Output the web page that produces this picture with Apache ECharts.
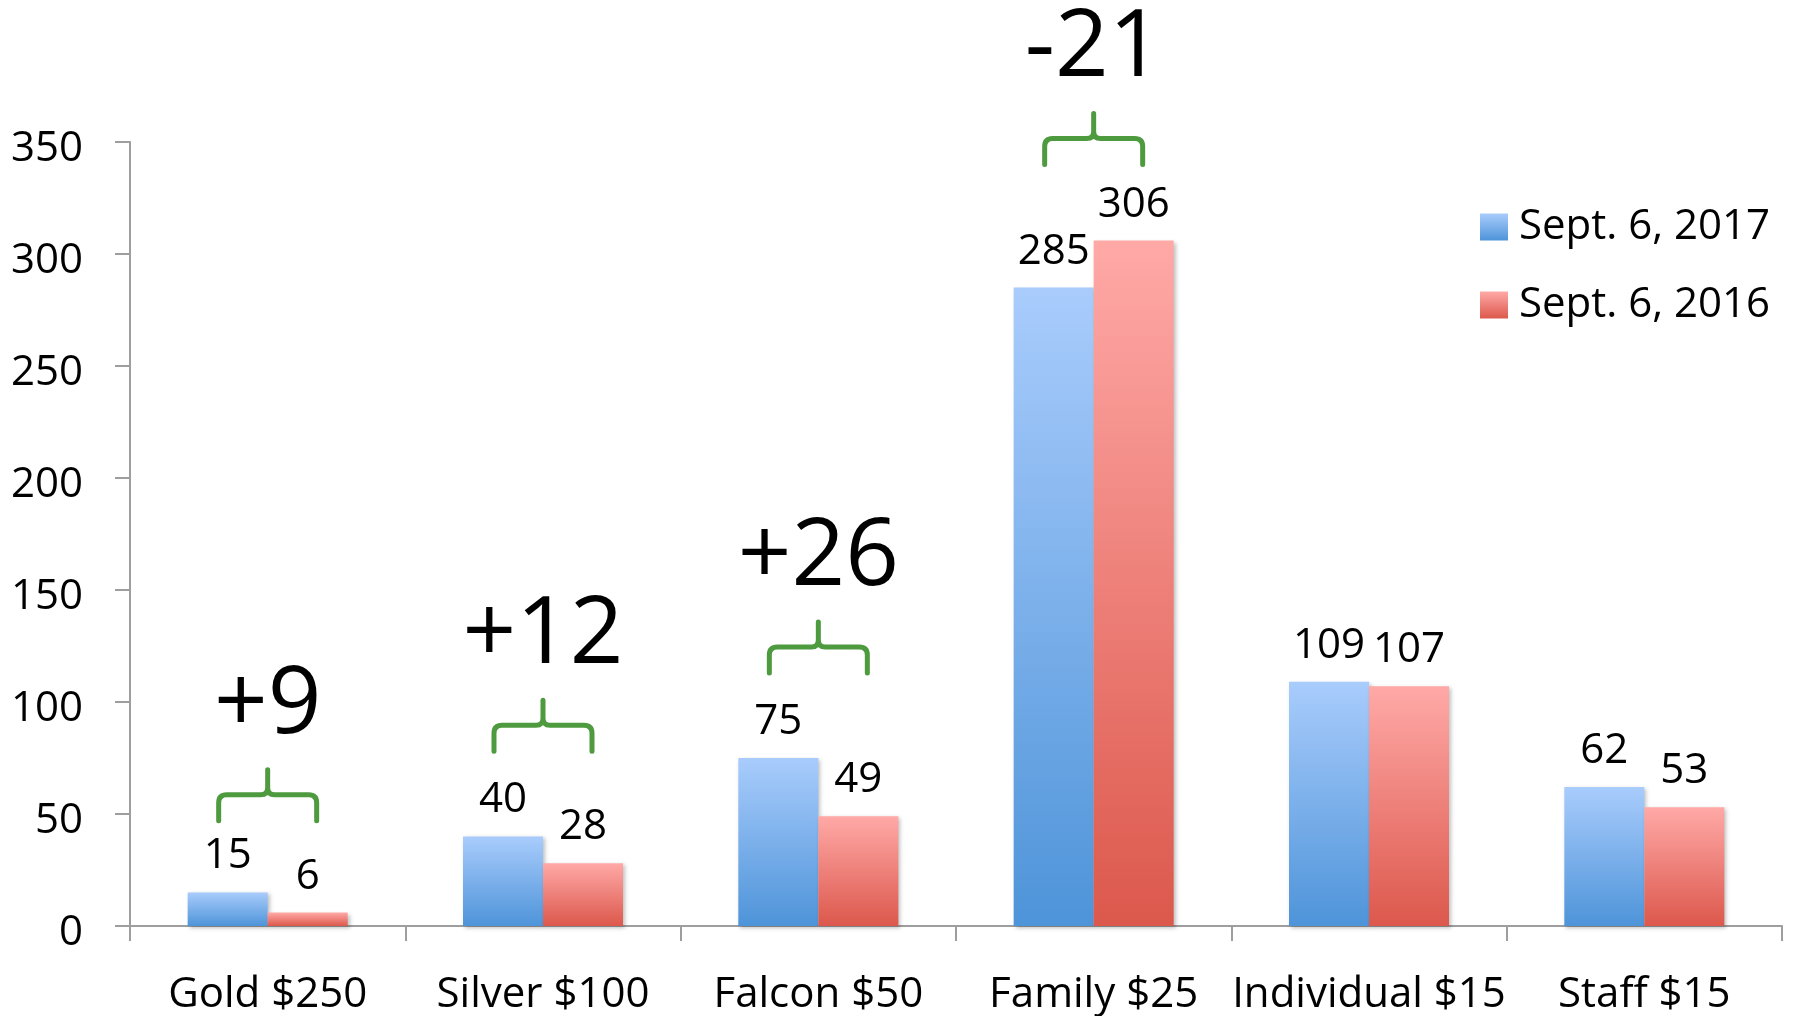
<!DOCTYPE html>
<html><head><meta charset="utf-8">
<script src="https://cdn.jsdelivr.net/npm/echarts@6/dist/echarts.min.js"></script>
<style>html,body{margin:0;padding:0;background:#fff;} #chart{width:1795px;height:1016px;}</style>
</head><body><div id="chart"></div>
<script>
const categories = ['Gold $250','Silver $100','Falcon $50','Family $25','Individual $15','Staff $15'];
const series2017 = [15, 40, 75, 285, 109, 62];
const series2016 = [6, 28, 49, 306, 107, 53];
const seriesNames = ['Sept. 6, 2017', 'Sept. 6, 2016'];
const yTickValues = [0, 50, 100, 150, 200, 250, 300, 350];
const annotatedCategories = [0, 1, 2, 3];
// value level (in axis units) at which each brace's feet sit
const braceLevels = [47, 78, 113, 340];

const FONT = '"Open Sans", "Liberation Sans", sans-serif';
const blueGrad = new echarts.graphic.LinearGradient(0, 0, 0, 1, [
  {offset: 0, color: '#A9CCFC'}, {offset: 1, color: '#4E94D9'}]);
const redGrad = new echarts.graphic.LinearGradient(0, 0, 0, 1, [
  {offset: 0, color: '#FFA9A7'}, {offset: 1, color: '#DC584C'}]);

const annotationData = annotatedCategories.map((i, k) => {
  const d = series2017[i] - series2016[i];
  return [i, braceLevels[k], d];
});

const chart = echarts.init(document.getElementById('chart'), null, {renderer: 'canvas'});

const barCommon = {
  type: 'bar',
  barWidth: 80,
  barGap: '0%',
  label: {
    show: true, position: 'top', distance: 15,
    fontSize: 42, fontFamily: FONT, color: '#000'
  }
};

chart.setOption({
  animation: false,
  backgroundColor: '#fff',
  grid: {left: 130, right: 13, top: 142, bottom: 89, containLabel: false},
  legend: {
    data: seriesNames.map(n => ({name: n, icon: 'rect'})),
    orient: 'vertical',
    left: 1480, top: 206,
    padding: 0,
    itemWidth: 28, itemHeight: 27, itemGap: 36,
    textStyle: {fontSize: 42, fontFamily: FONT, color: '#000', padding: [0, 0, 0, 6]}
  },
  xAxis: {
    type: 'category',
    data: categories,
    axisLine: {lineStyle: {color: '#9E9E9E', width: 2}},
    axisTick: {show: true, length: 15, lineStyle: {color: '#9E9E9E', width: 2}},
    axisLabel: {fontSize: 42, fontFamily: FONT, color: '#000', margin: 48, interval: 0}
  },
  yAxis: {
    type: 'value',
    min: yTickValues[0], max: yTickValues[yTickValues.length - 1], interval: 50,
    splitLine: {show: false},
    axisLine: {show: true, lineStyle: {color: '#9E9E9E', width: 2}},
    axisTick: {show: true, length: 15, lineStyle: {color: '#9E9E9E', width: 2}},
    axisLabel: {
      margin: 47,
      formatter: '{a|{value}}',
      rich: {a: {fontSize: 42, fontFamily: FONT, color: '#000', padding: [14, 0, 0, 0]}}
    }
  },
  series: [
    Object.assign({}, barCommon, {
      name: seriesNames[0], data: series2017,
      itemStyle: {color: blueGrad, shadowColor: 'rgba(0,0,0,0.25)', shadowBlur: 4, shadowOffsetX: 2, shadowOffsetY: 2}
    }),
    Object.assign({}, barCommon, {
      name: seriesNames[1], data: series2016,
      itemStyle: {color: redGrad, shadowColor: 'rgba(0,0,0,0.25)', shadowBlur: 4, shadowOffsetX: 2, shadowOffsetY: 2}
    }),
    {
      type: 'custom',
      name: 'diff',
      silent: true,
      z: 10,
      clip: false,
      data: annotationData,
      renderItem: function (params, api) {
        const idx = api.value(0);
        const v = api.value(1);
        const diff = api.value(2);
        const p = api.coord([idx, v]);
        const cx = p[0];
        const yb = p[1];
        const mid = yb - 26, tip = yb - 51, hw = 49, r = 8;
        const d = `M${cx-hw},${yb} L${cx-hw},${mid+r} Q${cx-hw},${mid} ${cx-hw+r},${mid} L${cx-7},${mid} Q${cx},${mid} ${cx},${mid-7} L${cx},${tip} M${cx},${mid-7} Q${cx},${mid} ${cx+7},${mid} L${cx+hw-r},${mid} Q${cx+hw},${mid} ${cx+hw},${mid+r} L${cx+hw},${yb}`;
        const txt = (diff > 0 ? '+' : '') + diff;
        return {
          type: 'group',
          children: [
            {type: 'path', shape: {pathData: d}, style: {stroke: '#4E9A3F', lineWidth: 5, fill: 'none', lineCap: 'round'}},
            {type: 'text', x: cx, y: tip - 64, style: {text: txt, fontSize: 94, fontFamily: FONT, fill: '#000', align: 'center', verticalAlign: 'middle'}}
          ]
        };
      }
    }
  ]
});
</script>
</body></html>
